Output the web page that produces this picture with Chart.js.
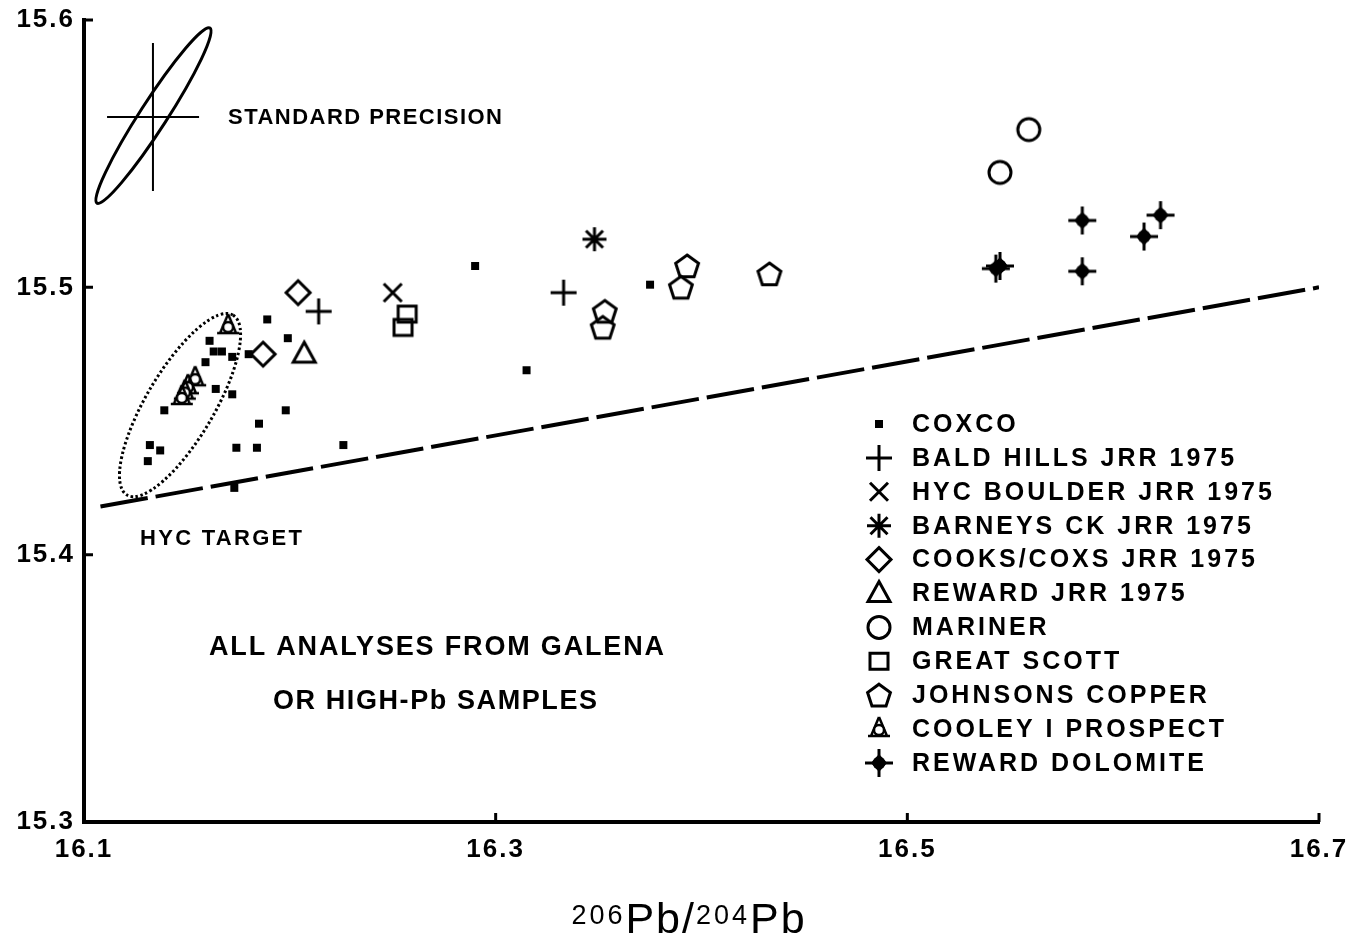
<!DOCTYPE html>
<html>
<head>
<meta charset="utf-8">
<script src="https://cdn.jsdelivr.net/npm/chart.js@4.4.0/dist/chart.umd.min.js"></script>
<style>
  html, body { margin: 0; padding: 0; background: #fff; }
  canvas { display: block; }
</style>
</head>
<body>
<canvas id="myChart" width="1367" height="942"></canvas>
<script>
// axis ranges / ticks
const xRange = [16.1, 16.7];
const yRange = [15.3, 15.6];

// sample points  [206Pb/204Pb, 207Pb/204Pb]
const coxco = [
  [16.189, 15.488], [16.161, 15.480], [16.199, 15.481], [16.163, 15.476],
  [16.167, 15.476], [16.172, 15.474], [16.180, 15.475], [16.159, 15.472],
  [16.164, 15.462], [16.172, 15.460], [16.139, 15.454], [16.198, 15.454],
  [16.185, 15.449], [16.132, 15.441], [16.137, 15.439], [16.131, 15.435],
  [16.174, 15.440], [16.184, 15.440], [16.173, 15.425], [16.226, 15.441],
  [16.315, 15.469], [16.290, 15.508], [16.375, 15.501]
];
const baldHills = [[16.214, 15.491], [16.333, 15.498]];
const hycBoulder = [[16.250, 15.498]];
const barneysCk = [[16.348, 15.518]];
const cooksCoxs = [[16.204, 15.498], [16.187, 15.475]];
const rewardJrr = [[16.207, 15.475]];
const mariner = [[16.545, 15.543], [16.559, 15.559]];
const greatScott = [[16.257, 15.490], [16.255, 15.485]];
const johnsons = [[16.353, 15.491], [16.352, 15.485], [16.393, 15.508], [16.390, 15.500], [16.433, 15.505]];
const cooley = [[16.170, 15.4855], [16.154, 15.466], [16.1505, 15.463], [16.149, 15.461], [16.1475, 15.459]];
const rewardDolomite = [[16.585, 15.525], [16.623, 15.527], [16.615, 15.519], [16.585, 15.506], [16.543, 15.507], [16.545, 15.508]];

// reference growth line and the two ellipses
const refLine = [[16.108, 15.418], [16.7, 15.5]];
const precisionCross = [[16.1112, 15.5637], [16.1559, 15.5637], [16.1335, 15.5914], [16.1335, 15.536]];
const precisionEllipse = [[16.1063, 15.5315], [16.1612, 15.597]];
const hycTarget = [[16.1209, 15.4223], [16.1724, 15.4896]];

function drawGlyph(g, kind, x, y) {
  g.save();
  g.strokeStyle = '#000';
  g.fillStyle = '#000';
  g.lineWidth = 3;
  g.beginPath();
  if (kind === 'square') {
    g.fillRect(x - 4, y - 4, 8, 8);
  } else if (kind === 'plus') {
    g.moveTo(x - 13, y); g.lineTo(x + 13, y);
    g.moveTo(x, y - 13); g.lineTo(x, y + 13);
    g.stroke();
  } else if (kind === 'cross') {
    g.moveTo(x - 9, y - 9); g.lineTo(x + 9, y + 9);
    g.moveTo(x + 9, y - 9); g.lineTo(x - 9, y + 9);
    g.stroke();
  } else if (kind === 'star') {
    g.moveTo(x - 12, y); g.lineTo(x + 12, y);
    g.moveTo(x, y - 12); g.lineTo(x, y + 12);
    g.moveTo(x - 8.5, y - 8.5); g.lineTo(x + 8.5, y + 8.5);
    g.moveTo(x + 8.5, y - 8.5); g.lineTo(x - 8.5, y + 8.5);
    g.stroke();
  } else if (kind === 'diamond') {
    g.moveTo(x, y - 12); g.lineTo(x + 12, y); g.lineTo(x, y + 12); g.lineTo(x - 12, y);
    g.closePath(); g.stroke();
  } else if (kind === 'triangle') {
    g.moveTo(x, y - 12); g.lineTo(x + 11, y + 8); g.lineTo(x - 11, y + 8);
    g.closePath(); g.stroke();
  } else if (kind === 'circle') {
    g.arc(x, y, 11, 0, Math.PI * 2); g.stroke();
  } else if (kind === 'box') {
    g.rect(x - 9, y - 8, 18, 16); g.stroke();
  } else if (kind === 'pentagon') {
    for (let i = 0; i < 5; i++) {
      const a = -Math.PI / 2 + i * 2 * Math.PI / 5;
      const px = x + 12 * Math.cos(a), py = y + 1 + 12 * Math.sin(a);
      if (i === 0) g.moveTo(px, py); else g.lineTo(px, py);
    }
    g.closePath(); g.stroke();
  } else if (kind === 'cooley') {
    g.lineWidth = 2.5;
    g.moveTo(x, y - 12); g.lineTo(x - 8, y + 7);
    g.moveTo(x, y - 12); g.lineTo(x + 8, y + 7);
    g.moveTo(x - 11, y + 7); g.lineTo(x + 11, y + 7);
    g.stroke();
    g.beginPath();
    g.fillStyle = '#fff';
    g.arc(x, y + 1, 5, 0, Math.PI * 2);
    g.fill(); g.stroke();
  } else if (kind === 'dolomite') {
    g.moveTo(x - 14, y); g.lineTo(x + 14, y);
    g.moveTo(x, y - 14); g.lineTo(x, y + 14);
    g.stroke();
    g.beginPath();
    g.moveTo(x, y - 9); g.lineTo(x + 8, y); g.lineTo(x, y + 9); g.lineTo(x - 8, y);
    g.closePath(); g.fill();
    g.beginPath();
    g.arc(x, y, 6.5, 0, Math.PI * 2); g.fill();
  }
  g.restore();
}

function glyph(kind) {
  const c = document.createElement('canvas');
  c.width = 34; c.height = 34;
  drawGlyph(c.getContext('2d'), kind, 17, 17);
  return c;
}

function pts(arr) { return arr.map(p => ({ x: p[0], y: p[1] })); }

const series = [
  ['COXCO', coxco, 'square'],
  ['BALD HILLS JRR 1975', baldHills, 'plus'],
  ['HYC BOULDER JRR 1975', hycBoulder, 'cross'],
  ['BARNEYS CK JRR 1975', barneysCk, 'star'],
  ['COOKS/COXS JRR 1975', cooksCoxs, 'diamond'],
  ['REWARD JRR 1975', rewardJrr, 'triangle'],
  ['MARINER', mariner, 'circle'],
  ['GREAT SCOTT', greatScott, 'box'],
  ['JOHNSONS COPPER', johnsons, 'pentagon'],
  ['COOLEY I PROSPECT', cooley, 'cooley'],
  ['REWARD DOLOMITE', rewardDolomite, 'dolomite']
];

const datasets = series.map(s => ({
  label: s[0],
  data: pts(s[1]),
  glyph: s[2],
  pointStyle: glyph(s[2]),
  pointRadius: 8,
  showLine: false
}));

datasets.push({
  label: 'ref',
  data: pts(refLine),
  showLine: true,
  borderColor: '#000',
  borderWidth: 4,
  borderDash: [48, 8],
  pointRadius: 0
});

const font = 'Liberation Sans, Arial, Helvetica, sans-serif';

function fitText(ctx, text, left, right, cy, f) {
  ctx.font = f;
  ctx.letterSpacing = '0px';
  const w = ctx.measureText(text).width;
  ctx.letterSpacing = ((right - left - w) / (text.length - 1)) + 'px';
  ctx.textAlign = 'left';
  ctx.textBaseline = 'middle';
  ctx.fillText(text, left, cy);
}

const decor = {
  id: 'decor',
  beforeDraw(chart) {
    chart.ctx.letterSpacing = '2px';
  },
  afterDraw(chart) {
    const { ctx, scales: { x, y } } = chart;
    const P = p => [x.getPixelForValue(p[0]), y.getPixelForValue(p[1])];
    ctx.save();
    ctx.strokeStyle = '#000';
    ctx.fillStyle = '#000';

    // inward tick marks
    ctx.lineWidth = 3;
    ctx.beginPath();
    x.ticks.forEach(t => {
      if (t.value > x.min + 1e-6) {
        const px = x.getPixelForValue(t.value);
        ctx.moveTo(px, y.bottom); ctx.lineTo(px, y.bottom - 9);
      }
    });
    y.ticks.forEach(t => {
      if (t.value > y.min + 1e-6) {
        const py = y.getPixelForValue(t.value);
        ctx.moveTo(x.left, py); ctx.lineTo(x.left + 9, py);
      }
    });
    ctx.stroke();

    // standard precision cross + ellipse
    ctx.lineWidth = 2;
    ctx.beginPath();
    const c = precisionCross.map(P);
    ctx.moveTo(c[0][0], c[0][1]); ctx.lineTo(c[1][0], c[1][1]);
    ctx.moveTo(c[2][0], c[2][1]); ctx.lineTo(c[3][0], c[3][1]);
    ctx.stroke();

    function ell(pair, halfMinor) {
      const [a, b] = pair.map(P);
      const len = Math.hypot(b[0] - a[0], b[1] - a[1]) / 2;
      const ang = Math.atan2(b[1] - a[1], b[0] - a[0]);
      ctx.beginPath();
      ctx.ellipse((a[0] + b[0]) / 2, (a[1] + b[1]) / 2, len, halfMinor, ang, 0, Math.PI * 2);
      ctx.stroke();
    }
    ctx.lineWidth = 3;
    ell(precisionEllipse, 13.5);
    ctx.setLineDash([2.5, 2.5]);
    ell(hycTarget, 34);
    ctx.setLineDash([]);

    // annotations
    fitText(ctx, 'STANDARD PRECISION', 228, 502, 118, 'bold 22px ' + font);
    fitText(ctx, 'HYC TARGET', 140, 302, 539, 'bold 22px ' + font);
    fitText(ctx, 'ALL ANALYSES FROM GALENA', 209, 664, 648, 'bold 27px ' + font);
    fitText(ctx, 'OR HIGH-Pb SAMPLES', 273, 597, 702, 'bold 27px ' + font);

    // legend
    ctx.font = 'bold 25px ' + font;
    ctx.letterSpacing = '3px';
    ctx.textAlign = 'left';
    ctx.textBaseline = 'middle';
    chart.data.datasets.forEach((d, i) => {
      if (!d.glyph) return;
      const ly = 424 + i * 33.9;
      drawGlyph(ctx, d.glyph, 879, ly);
      ctx.fillText(d.label, 912, ly + 1);
    });

    // x axis title with superscripts
    ctx.textBaseline = 'alphabetic';
    const big = '43px ' + font, small = '27px ' + font;
    const parts = [['206', small, -9, 3], ['Pb', big, 0, 2], ['/', big, 0, 2], ['204', small, -9, 3], ['Pb', big, 0, 2]];
    let total = 0;
    parts.forEach(p => { ctx.font = p[1]; ctx.letterSpacing = p[3] + 'px'; total += ctx.measureText(p[0]).width; });
    let tx = 689 - total / 2;
    parts.forEach(p => {
      ctx.font = p[1];
      ctx.letterSpacing = p[3] + 'px';
      ctx.fillText(p[0], tx, 933 + p[2]);
      tx += ctx.measureText(p[0]).width;
    });
    ctx.restore();
  }
};

new Chart(document.getElementById('myChart'), {
  type: 'scatter',
  data: { datasets },
  options: {
    responsive: false,
    animation: false,
    layout: { padding: { left: 0, right: 48, top: 20, bottom: 0 } },
    plugins: { legend: { display: false }, tooltip: { enabled: false } },
    scales: {
      x: {
        min: xRange[0],
        max: xRange[1],
        grid: { display: false, drawTicks: false },
        border: { display: true, color: '#000', width: 4 },
        ticks: {
          stepSize: 0.2,
          padding: 12,
          color: '#000',
          font: { family: font, size: 26, weight: 'bold' },
          callback: v => v.toFixed(1)
        },
        afterFit: s => { s.height = 120; s.paddingLeft = 0; s.paddingRight = 0; }
      },
      y: {
        min: yRange[0],
        max: yRange[1],
        grid: { display: false, drawTicks: false },
        border: { display: true, color: '#000', width: 4 },
        ticks: {
          stepSize: 0.1,
          padding: 9,
          color: '#000',
          font: { family: font, size: 26, weight: 'bold' },
          callback: v => v.toFixed(1)
        },
        afterFit: s => { s.width = 84; s.paddingTop = 0; s.paddingBottom = 0; }
      }
    }
  },
  plugins: [decor]
});
</script>
</body>
</html>
